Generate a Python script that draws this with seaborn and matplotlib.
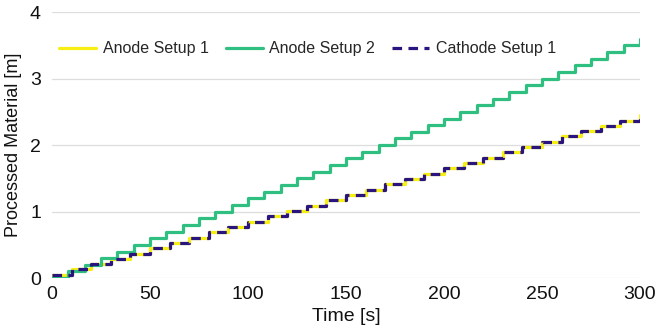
import matplotlib
matplotlib.use("Agg")
import matplotlib.pyplot as plt
import seaborn as sns
import pandas as pd

# Data (step series)
anode2_time = [0, 8.33, 16.67, 25, 33.33, 41.67, 50, 58.33, 66.67, 75, 83.33, 91.67,
               100, 108.33, 116.67, 125, 133.33, 141.67, 150, 158.33, 166.67, 175,
               183.33, 191.67, 200, 208.33, 216.67, 225, 233.33, 241.67, 250, 258.33,
               266.67, 275, 283.33, 291.67, 300]
anode2_vals = [0.0, 0.1, 0.2, 0.3, 0.4, 0.5, 0.6, 0.7, 0.8, 0.9, 1.0, 1.1,
               1.2, 1.3, 1.4, 1.5, 1.6, 1.7, 1.8, 1.9, 2.0, 2.1,
               2.2, 2.3, 2.4, 2.5, 2.6, 2.7, 2.8, 2.9, 3.0, 3.1,
               3.2, 3.3, 3.4, 3.5, 3.6]

setup1_time = [0, 10, 20, 30, 40, 50, 60, 70, 80, 90, 100, 110, 120, 130, 140, 150,
               160, 170, 180, 190, 200, 210, 220, 230, 240, 250, 260, 270, 280, 290, 300]
anode1_vals = [0.05, 0.13, 0.21, 0.29, 0.37, 0.45, 0.53, 0.61, 0.69, 0.77, 0.85, 0.93,
               1.01, 1.09, 1.17, 1.25, 1.33, 1.41, 1.49, 1.57, 1.65, 1.73, 1.81, 1.89,
               1.97, 2.05, 2.13, 2.21, 2.29, 2.37, 2.45]
cathode1_vals = [0.05, 0.13, 0.21, 0.29, 0.37, 0.45, 0.53, 0.61, 0.69, 0.77, 0.85, 0.93,
                 1.01, 1.09, 1.17, 1.25, 1.33, 1.41, 1.49, 1.57, 1.65, 1.73, 1.81, 1.89,
                 1.97, 2.05, 2.13, 2.21, 2.29, 2.37, 2.45]

labels = ["Anode Setup 1", "Anode Setup 2", "Cathode Setup 1"]
x_ticks = [0, 50, 100, 150, 200, 250, 300]
y_ticks = [0, 1, 2, 3, 4]

sns.set_theme(style="white")
plt.rcParams["font.family"] = ["Liberation Sans", "DejaVu Sans"]

fig = plt.figure(figsize=(6.59, 3.28), dpi=100)
ax = fig.add_axes([0.079, 0.152, 0.892, 0.811])

df_a1 = pd.DataFrame({"t": setup1_time, "v": anode1_vals})
df_a2 = pd.DataFrame({"t": anode2_time, "v": anode2_vals})
df_c1 = pd.DataFrame({"t": setup1_time, "v": cathode1_vals})

sns.lineplot(data=df_a1, x="t", y="v", ax=ax, color="#f7ee13", lw=2.3,
             drawstyle="steps-post", label=labels[0], zorder=3)
sns.lineplot(data=df_a2, x="t", y="v", ax=ax, color="#2fbf80", lw=2.3,
             drawstyle="steps-post", label=labels[1], zorder=3)
sns.lineplot(data=df_c1, x="t", y="v", ax=ax, color="#2a1480", lw=2.3,
             drawstyle="steps-post", label=labels[2], zorder=4,
             dashes=False, linestyle=(0, (3.0, 2.0)))

ax.set_xlim(0, 300)
ax.set_ylim(0, 4)
ax.set_xticks(x_ticks)
ax.set_yticks(y_ticks)
ax.tick_params(axis="x", labelsize=14, length=0, pad=6, colors="#111111")
ax.tick_params(axis="y", labelsize=14, length=0, pad=8, colors="#111111")
ax.yaxis.grid(True, color="#dddddd", lw=0.9)
ax.xaxis.grid(False)
for s in ax.spines.values():
    s.set_visible(False)

ax.set_xlabel("Time [s]", fontsize=14, color="#111111", labelpad=3)
ax.set_ylabel("Processed Material [m]", fontsize=13, color="#111111", labelpad=6)

ax.legend(loc="upper left", bbox_to_anchor=(-0.012, 0.945), ncol=3, frameon=False,
          fontsize=11.5, handlelength=2.3, handletextpad=0.4, columnspacing=1.1)

fig.savefig("out.png", dpi=100)
